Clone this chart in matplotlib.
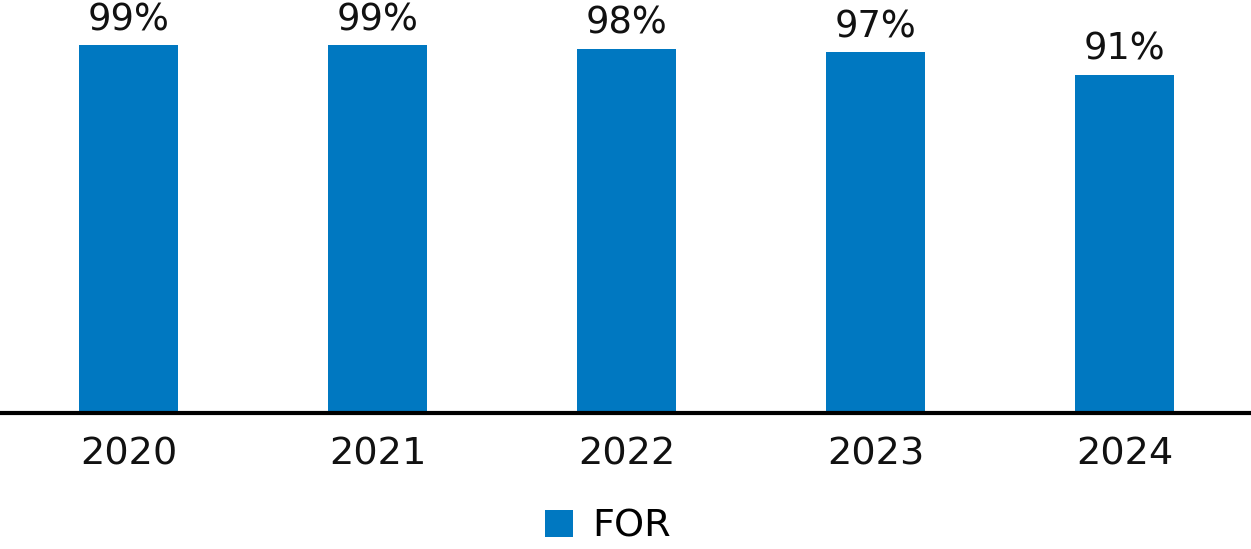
import matplotlib.pyplot as plt

years = ['2020', '2021', '2022', '2023', '2024']
values = [99, 99, 98, 97, 91]
labels = ['99%', '99%', '98%', '97%', '91%']

plt.rcParams['font.family'] = ['DejaVu Sans']

fig = plt.figure(figsize=(12.51, 5.49), dpi=100)
ax = fig.add_axes([0, 0.2477, 1, 0.7523])

x = range(len(years))
bars = ax.bar(x, values, width=0.398, color='#0078C1', label='FOR')

for b, lab in zip(bars, labels):
    ax.annotate(lab, (b.get_x() + b.get_width() / 2, b.get_height()),
                xytext=(0, 5), textcoords='offset points',
                ha='center', va='bottom', fontsize=26.5, color='#111111')

ax.set_xlim(-0.516, 4.508)
ax.set_ylim(0, 111.1)
ax.set_xticks(list(x))
ax.set_xticklabels(years, fontsize=27.5, color='#111111')
ax.tick_params(axis='x', length=0, pad=17)
ax.set_yticks([])
for s in ['top', 'right', 'left']:
    ax.spines[s].set_visible(False)
ax.spines['bottom'].set_linewidth(3)
ax.spines['bottom'].set_color('black')

fig.legend(loc='lower center', bbox_to_anchor=(0.486, -0.055), frameon=False,
           fontsize=27.5, handlelength=0.73, handleheight=0.73,
           handletextpad=0.5)

fig.savefig('out.png', dpi=100)
